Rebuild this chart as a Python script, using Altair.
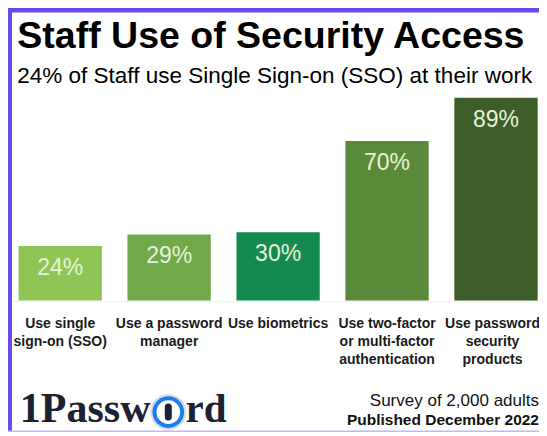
import altair as alt
import pandas as pd

# ---- data ----
keys = ["sso", "pm", "bio", "mfa", "psp"]
categories = [
    "Use single\nsign-on (SSO)",
    "Use a password\nmanager",
    "Use biometrics",
    "Use two-factor\nor multi-factor\nauthentication",
    "Use password\nsecurity\nproducts",
]
values = [24, 29, 30, 70, 89]
value_labels = ["24%", "29%", "30%", "70%", "89%"]
bar_colors = ["#8fc556", "#70a94b", "#158a50", "#598a3a", "#3d5e28"]

title_text = "Staff Use of Security Access"
subtitle_text = "24% of Staff use Single Sign-on (SSO) at their work"
footer_survey = "Survey of 2,000 adults"
footer_published = "Published December 2022"
logo_left = "1Passw"
logo_right = "rd"

# ---- styles ----
W, H = 531, 228
TOP, BOTTOM = 64.6, 131.4
PURPLE = "#6b48f2"
NAVY = "#1b2232"
SANS = "Liberation Sans, Arial, sans-serif"
SERIF = "Liberation Serif, Times New Roman, serif"

df = pd.DataFrame({"key": keys, "cat": categories, "value": values, "label": value_labels})

x = alt.X("key:N", sort=keys, axis=None,
          scale=alt.Scale(paddingInner=0.2355, paddingOuter=0.0546, align=0.8866))
y = alt.Y("value:Q", axis=None, scale=alt.Scale(domain=[0, 100], nice=False, zero=True))

base = alt.Chart(df)

bars = base.mark_bar().encode(
    x=x, y=y,
    color=alt.Color("key:N", scale=alt.Scale(domain=keys, range=bar_colors), legend=None),
)

pct = base.mark_text(dy=29, fontSize=23, font=SANS, color="#e6f3d8", baseline="alphabetic").encode(
    x=x, y=y, text="label:N"
)

cat_style = dict(lineBreak="\n", fontSize=14, fontWeight="bold", font=SANS,
                 lineHeight=17.7, baseline="alphabetic", color="#1a1a1a")
cats = base.transform_filter(alt.datum.key != "psp").mark_text(**cat_style).encode(
    x=x, y=alt.value(255.7), text="cat:N"
)
cats_last = base.transform_filter(alt.datum.key == "psp").mark_text(dx=-3.5, **cat_style).encode(
    x=x, y=alt.value(255.7), text="cat:N"
)

one = pd.DataFrame({"a": [0]})

baseline_rule = alt.Chart(one).mark_rule(color="#eeeeee", strokeWidth=1).encode(
    x=alt.value(2), x2=alt.value(W), y=alt.value(H + 1)
)

top_border = alt.Chart(one).mark_rect(color=PURPLE).encode(
    x=alt.value(0), x2=alt.value(W), y=alt.value(-TOP), y2=alt.value(-TOP + 4.6)
)
left_border = alt.Chart(one).mark_rect(color=PURPLE).encode(
    x=alt.value(0), x2=alt.value(4), y=alt.value(-TOP), y2=alt.value(H + BOTTOM)
)
bottom_line = alt.Chart(one).mark_rect(color="#c3b8f7").encode(
    x=alt.value(0), x2=alt.value(W), y=alt.value(H + BOTTOM - 1.6), y2=alt.value(H + BOTTOM)
)


def txt(s, xv, yv, size, weight="normal", align="left", font=SANS, color="#000000"):
    return alt.Chart(pd.DataFrame({"t": [s]})).mark_text(
        fontSize=size, fontWeight=weight, align=align, baseline="alphabetic", font=font, color=color
    ).encode(x=alt.value(xv), y=alt.value(yv), text="t:N")


title = txt(title_text, 9.3, -24.3, 37.5, "bold")
subtitle = txt(subtitle_text, 9.3, 10.7, 22.5)
survey = txt(footer_survey, W, 333.5, 17, align="right", color="#111111")
published = txt(footer_published, W, 352.5, 15.5, "bold", align="right", color="#111111")

logo1 = txt(logo_left, 142.5, 349.5, 42, "bold", align="right", font=SERIF, color=NAVY)
logo2 = txt(logo_right, 177.5, 349.5, 41, "bold", align="left", font=SERIF, color=NAVY)

cx, cy = 160.3, 339.5
ring_outer = alt.Chart(one).mark_circle(size=1296, color="#d9dde3", opacity=1).encode(x=alt.value(cx), y=alt.value(cy))
ring_blue = alt.Chart(one).mark_circle(size=1000, color="#1a7ef0", opacity=1).encode(x=alt.value(cx), y=alt.value(cy))
ring_white = alt.Chart(one).mark_circle(size=560, color="#ffffff", opacity=1).encode(x=alt.value(cx), y=alt.value(cy))
keyhole = alt.Chart(one).mark_rule(color=NAVY, strokeWidth=7, strokeCap="round").encode(
    x=alt.value(cx), y=alt.value(cy - 5), y2=alt.value(cy + 5)
)

chart = alt.layer(
    baseline_rule, bars, pct, cats, cats_last,
    top_border, left_border, bottom_line,
    title, subtitle, survey, published,
    logo1, logo2, ring_outer, ring_blue, ring_white, keyhole,
).properties(
    width=W, height=H,
    padding={"left": 0, "top": TOP, "right": 0, "bottom": BOTTOM},
    autosize=alt.AutoSizeParams(type="none"),
    background="white",
).configure_view(stroke=None)

chart.save("out.html", embed_options={"renderer": "svg", "actions": False})
